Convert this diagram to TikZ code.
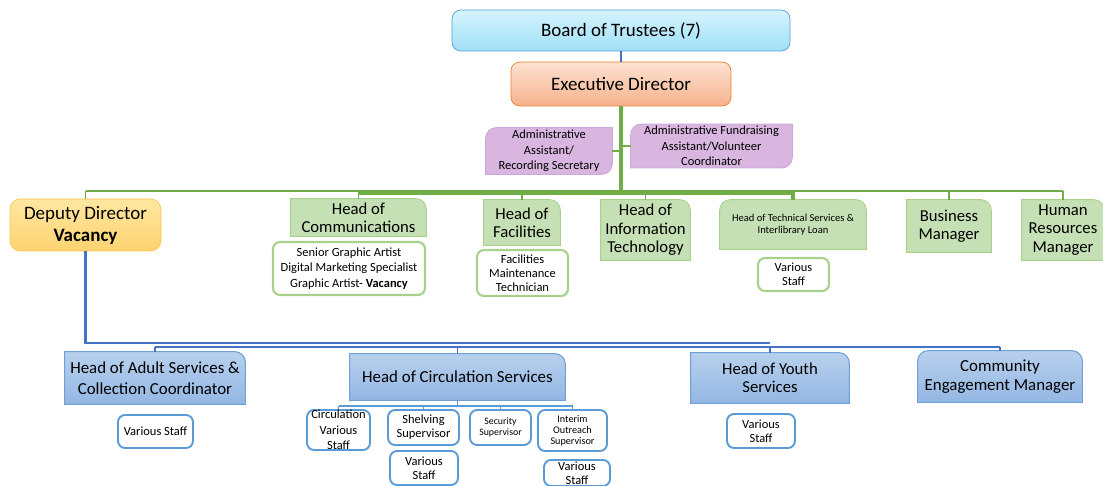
\documentclass[tikz,border=0pt]{standalone}
\usepackage{fontspec}
\setmainfont{Carlito}
\usetikzlibrary{backgrounds}

\definecolor{lineGreen}{RGB}{112,173,71}
\definecolor{lineBlue}{RGB}{68,114,196}
\definecolor{lineLight}{RGB}{91,155,213}
\definecolor{boxGreen}{RGB}{197,224,180}
\definecolor{edgeGreen}{RGB}{169,209,142}
\definecolor{edgeBlue}{RGB}{91,155,213}
\definecolor{boardTop}{RGB}{214,243,253}
\definecolor{boardBot}{RGB}{160,224,248}
\definecolor{boardEdge}{RGB}{91,155,213}
\definecolor{execTop}{RGB}{252,226,210}
\definecolor{execBot}{RGB}{246,178,140}
\definecolor{execEdge}{RGB}{237,125,49}
\definecolor{depTop}{RGB}{255,231,162}
\definecolor{depBot}{RGB}{254,211,112}
\definecolor{depEdge}{RGB}{248,196,70}
\definecolor{purpleFill}{RGB}{216,182,224}
\definecolor{purpleEdge}{RGB}{204,168,220}
\definecolor{blueTop}{RGB}{184,208,237}
\definecolor{blueBot}{RGB}{147,183,227}
\definecolor{blueEdge}{RGB}{112,160,216}

\tikzstyle{lbl}=[inner sep=1pt,align=center,text=black]
\tikzset{sz/.style 2 args={minimum width=#1*0.02cm,minimum height=#2*0.02cm}}
\tikzstyle{big}=[lbl,font=\fontsize{10.8}{12.5}\selectfont]
\tikzstyle{mid}=[lbl,font=\fontsize{9.5}{10.5}\selectfont]
\tikzstyle{small}=[lbl,font=\fontsize{7.1}{8.8}\selectfont]
\tikzstyle{tiny}=[lbl,font=\fontsize{6}{6.8}\selectfont]
\tikzstyle{greenstaff}=[draw=edgeGreen,line width=1.2pt,fill=white,rounded corners=4pt]
\tikzstyle{bluestaff}=[draw=edgeBlue,line width=1.1pt,fill=white,rounded corners=4pt]
\tikzstyle{greenhead}=[fill=boxGreen,draw=edgeGreen,line width=0.5pt]
\tikzstyle{bluehead}=[top color=blueTop,bottom color=blueBot,draw=blueEdge,line width=0.6pt]
\tikzstyle{purplehead}=[fill=purpleFill,draw=purpleEdge,line width=0.5pt]
\tikzstyle{greenline}=[draw=lineGreen,line width=1pt]
\tikzstyle{greenthick}=[draw=lineGreen,line width=2.4pt]
\tikzstyle{blueline}=[draw=lineBlue,line width=0.6pt]
\tikzstyle{bluethick}=[draw=lineBlue,line width=1.2pt]
\tikzstyle{lightline}=[draw=lineLight,line width=0.6pt]

% box with a round top right corner
\newcommand{\trbox}[2]{\path[#2] (#1.south west) -- (#1.north west) -- ([xshift=-6pt]#1.north east) arc[start angle=90,end angle=0,radius=6pt] -- (#1.south east) -- cycle;}
% box with both top corners round
\newcommand{\ttbox}[2]{\path[#2] (#1.south west) -- ([yshift=-6pt]#1.north west) arc[start angle=180,end angle=90,radius=6pt] -- ([xshift=-6pt]#1.north east) arc[start angle=90,end angle=0,radius=6pt] -- (#1.south east) -- cycle;}
% box with round top left and bottom right corners
\newcommand{\diagbox}[2]{\path[#2] ([yshift=-6pt]#1.north west) arc[start angle=180,end angle=90,radius=6pt] -- (#1.north east) -- ([yshift=6pt]#1.south east) arc[start angle=0,end angle=-90,radius=6pt] -- (#1.south west) -- cycle;}

\begin{document}
\begin{tikzpicture}[x=0.02cm,y=-0.02cm]
    \useasboundingbox (0,0) rectangle (1103,486);
    % top
    \node[big,sz={338}{41},rounded corners=5pt,draw=boardEdge,top color=boardTop,bottom color=boardBot] (board) at (621,30.5) {Board of Trustees (7)};
    \node[big,sz={220}{44},rounded corners=5pt,draw=execEdge,top color=execTop,bottom color=execBot] (exec) at (621,84) {Executive Director};
    \node[small,sz={126}{46}] (adminA) at (549,151) {Administrative\\Assistant/\\Recording Secretary};
    \node[small,sz={161}{38}] (adminF) at (711.5,146) {Administrative Fundraising\\Assistant/Volunteer\\Coordinator};
    % green row
    \node[lbl,font=\fontsize{10.8}{12.5}\selectfont,sz={151}{52},rounded corners=6pt,draw=depEdge,top color=depTop,bottom color=depBot] (deputy) at (85.5,225) {Deputy Director\\\textbf{Vacancy}};
    \node[mid,sz={135}{37}] (comm) at (358.5,217.5) {Head of\\Communications};
    \node[small,greenstaff,sz={152}{53}] (commstaff) at (349,268.5) {Senior Graphic Artist\\Digital Marketing Specialist\\Graphic Artist- \textbf{Vacancy}};
    \node[mid,sz={76}{45}] (fac) at (522,222.5) {Head of\\Facilities};
    \node[small,greenstaff,sz={91}{46},font=\fontsize{7.1}{8}\selectfont] (facstaff) at (522.5,273) {Facilities\\Maintenance\\Technician};
    \node[mid,sz={89}{60}] (it) at (645.5,230) {Head of\\Information\\Technology};
    \node[tiny,sz={146}{49}] (tech) at (793,224.5) {Head of Technical Services \&\\Interlibrary Loan};
    \node[small,greenstaff,sz={71}{33},font=\fontsize{7.1}{8}\selectfont] (techstaff) at (793.5,274.5) {Various\\Staff};
    \node[mid,sz={84}{52}] (bus) at (949,226) {Business\\Manager};
    \node[mid,sz={82}{60}] (hr) at (1063,230) {Human\\Resources\\Manager};
    % blue row
    \node[lbl,font=\fontsize{9.6}{12}\selectfont,sz={180}{52}] (adult) at (155,378) {Head of Adult Services \&\\Collection Coordinator};
    \node[small,bluestaff,sz={75}{33}] (adultstaff) at (155.5,431.5) {Various Staff};
    \node[lbl,font=\fontsize{9.6}{11}\selectfont,sz={215}{46}] (circ) at (457.5,377) {Head of Circulation Services};
    \node[small,bluestaff,sz={63}{40},inner ysep=0pt] (circvs) at (338.5,430) {Circulation\\Various\\Staff};
    \node[small,bluestaff,sz={71}{35},font=\fontsize{7.1}{8}\selectfont] (shelv) at (423.5,427.5) {Shelving\\Supervisor};
    \node[tiny,bluestaff,sz={61}{35},font=\fontsize{5.6}{5.8}\selectfont] (secur) at (500.5,427.5) {Security\\Supervisor};
    \node[tiny,bluestaff,sz={69}{41},font=\fontsize{5.8}{6.3}\selectfont] (interim) at (572.5,430.5) {Interim\\Outreach\\Supervisor};
    \node[small,bluestaff,sz={68}{34},font=\fontsize{7.1}{8}\selectfont] (shelvstaff) at (424,468) {Various\\Staff};
    \node[small,bluestaff,sz={66}{26},font=\fontsize{7.1}{7.8}\selectfont,inner ysep=0pt] (interimstaff) at (577,473) {Various\\Staff};
    \node[mid,sz={158}{50}] (youth) at (770,378) {Head of Youth\\Services};
    \node[small,bluestaff,sz={68}{34},font=\fontsize{7.1}{8}\selectfont] (youthstaff) at (761,431) {Various\\Staff};
    \node[lbl,font=\fontsize{9.6}{11}\selectfont,sz={164}{51}] (comeng) at (1000,376.5) {Community\\Engagement Manager};

    % box shapes behind the texts
    \begin{scope}[on background layer]
        \foreach \n in {comm,fac,it,bus,hr} {\trbox{\n}{greenhead}}
        \ttbox{tech}{greenhead}
        \foreach \n in {adult,circ,youth} {\trbox{\n}{bluehead}}
        \ttbox{comeng}{bluehead}
        \diagbox{adminA}{purplehead}
        \diagbox{adminF}{purplehead}
    \end{scope}

    % connectors
    \coordinate (gbus) at (0,191);
    \coordinate (gthick) at (0,193);
    \coordinate (bbus) at (0,343);
    \coordinate (bthin) at (0,347);
    \coordinate (cbus) at (0,406);
    \draw[blueline] (board.south) -- (exec.north);
    \draw[greenline] (deputy.north |- gbus) -- (hr.north |- gbus);
    \foreach \n in {deputy,comm,fac,it,bus,hr}
        \draw[greenline] (\n.north |- gbus) -- (\n.north);
    \draw[greenline] (adminA.east) -- (adminA.east -| exec.south);
    \draw[greenline] (adminF.west) -- (adminF.west -| exec.south);
    \draw[greenthick] (exec.south) -- (exec.south |- gthick);
    \draw[greenthick] (comm.north |- gthick) -- (tech.north |- gthick) -- (tech.north);

    \draw[bluethick] (deputy.south) -- (deputy.south |- bbus) -- (youth.north |- bbus);
    \draw[blueline] (adult.north |- bthin) -- (comeng.north |- bthin);
    \foreach \n in {adult,circ,youth,comeng}
        \draw[blueline] (\n.north |- bthin) -- (\n.north);
    \draw[lightline] (circ.south) -- (circ.south |- cbus);
    \draw[lightline] (circvs.north |- cbus) -- (interim.north |- cbus);
    \foreach \n in {circvs,shelv,secur,interim}
        \draw[lightline] (\n.north |- cbus) -- (\n.north);
\end{tikzpicture}
\end{document}
